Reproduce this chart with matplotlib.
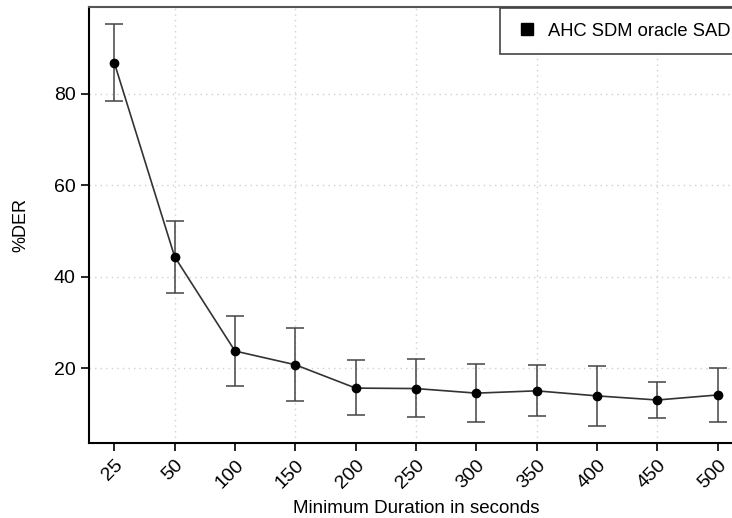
import matplotlib
matplotlib.use("Agg")
import matplotlib.pyplot as plt
from matplotlib.lines import Line2D
import numpy as np

plt.rcParams['font.family'] = ['Liberation Sans', 'DejaVu Sans']

categories = ["25", "50", "100", "150", "200", "250", "300", "350", "400", "450", "500"]
der_mean = [86.8, 44.4, 23.8, 20.8, 15.7, 15.6, 14.6, 15.1, 14.0, 13.1, 14.2]
der_upper = [95.3, 52.2, 31.5, 28.9, 21.9, 22.0, 21.0, 20.7, 20.5, 17.0, 20.1]
der_lower = [78.5, 36.5, 16.2, 12.9, 9.8, 9.4, 8.2, 9.6, 7.4, 9.2, 8.3]
series_label = "AHC SDM oracle SAD"
yticks = [20, 40, 60, 80]

fig = plt.figure(figsize=(7.32, 5.18), dpi=100)
ax = fig.add_axes([89/732, 75/518, 654/732, 436/518])

x = np.arange(len(categories))
mean = np.array(der_mean)
up = np.array(der_upper)
lo = np.array(der_lower)

# grid
for yt in yticks:
    ax.axhline(yt, color='#d0d0d0', linestyle=(0, (1, 3)), linewidth=1.0, zorder=0)
for xi in x[1::2]:
    ax.axvline(xi, color='#d0d0d0', linestyle=(0, (1, 3)), linewidth=1.0, zorder=0)

ax.errorbar(x, mean, yerr=[mean - lo, up - mean], fmt='none', ecolor='#444444',
            elinewidth=1.1, capsize=6.5, capthick=1.1, zorder=2)
ax.plot(x, mean, color='#333333', linewidth=1.2, marker='o', markersize=6,
        markerfacecolor='black', markeredgecolor='black', zorder=3)

ax.set_xlim(-0.42, 10.42)
ax.set_ylim(3.7, 99.0)
ax.set_xticks(x)
ax.set_xticklabels(categories, rotation=45, ha='right', rotation_mode='anchor')
ax.set_yticks(yticks)
ax.tick_params(axis='both', labelsize=14, length=6, width=1.2, direction='out', color='black')
ax.tick_params(axis='x', pad=4)

for side in ['left', 'bottom']:
    ax.spines[side].set_linewidth(1.5)
    ax.spines[side].set_color('black')
ax.spines['top'].set_color('#555555')
ax.spines['top'].set_linewidth(1.5)
ax.spines['right'].set_color('#555555')

ax.set_xlabel("Minimum Duration in seconds", fontsize=13.5, labelpad=6)
ax.set_ylabel("%DER", fontsize=13, labelpad=18)

handle = Line2D([], [], marker='s', linestyle='none', color='black', markersize=9)
leg = fig.legend([handle], [series_label], loc='upper left',
                 bbox_to_anchor=(500/732, 1 - 8/518), borderaxespad=0,
                 fontsize=13.2, frameon=True, fancybox=False, framealpha=1,
                 edgecolor='#444444', handletextpad=0.5, borderpad=0.8,
                 handlelength=1.3)
leg.get_frame().set_linewidth(1.2)

fig.savefig("out.png", dpi=100)
